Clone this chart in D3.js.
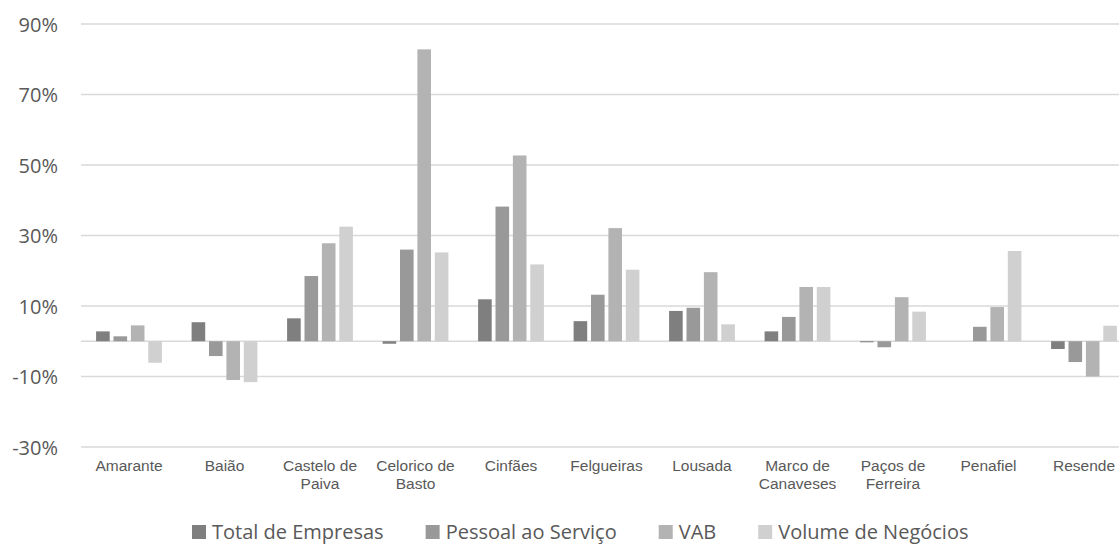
<!DOCTYPE html>
<html>
<head>
<meta charset="utf-8">
<script src="https://cdn.jsdelivr.net/npm/d3@7"></script>
<style>
  html, body { margin: 0; padding: 0; background: #fff; }
  svg { display: block; }
</style>
</head>
<body>
<svg id="chart" width="1119" height="544"></svg>
<script>
// Municipalities (x axis), two-line labels split on "\n"
const categories = [
  "Amarante", "Baião", "Castelo de\nPaiva", "Celorico de\nBasto", "Cinfães",
  "Felgueiras", "Lousada", "Marco de\nCanaveses", "Paços de\nFerreira", "Penafiel", "Resende"
];

const seriesNames = ["Total de Empresas", "Pessoal ao Serviço", "VAB", "Volume de Negócios"];
const seriesColors = ["#7f7f7f", "#999999", "#b3b3b3", "#d0d0d0"];

// Percentage change per municipality
const totalEmpresas   = [2.8, 5.4, 6.5, -0.7, 11.9, 5.7, 8.6, 2.8, -0.3, 0.0, -2.2];
const pessoalServico  = [1.4, -4.2, 18.5, 26.0, 38.2, 13.2, 9.5, 6.9, -1.7, 4.1, -5.9];
const vab             = [4.5, -11.0, 27.8, 82.8, 52.7, 32.1, 19.6, 15.4, 12.5, 9.7, -10.0];
const volumeNegocios  = [-6.1, -11.6, 32.5, 25.2, 21.8, 20.3, 4.8, 15.4, 8.4, 25.6, 4.4];

const yTicks = [-30, -10, 10, 30, 50, 70, 90];

const seriesValues = [totalEmpresas, pessoalServico, vab, volumeNegocios];

const svg = d3.select("#chart");

const x0 = d3.scaleBand().domain(categories).range([81.25, 1131.75]).padding(0);
const groupWidth = 65.8;
const x1 = d3.scaleBand().domain(seriesNames).range([0, groupWidth]).paddingInner(0.218).paddingOuter(0);
const y = d3.scaleLinear().domain([-30, 90]).range([447, 24]);

// Horizontal gridlines
svg.append("g")
  .selectAll("line")
  .data(yTicks.concat([0]))
  .join("line")
  .attr("x1", 81)
  .attr("x2", 1132)
  .attr("y1", d => y(d))
  .attr("y2", d => y(d))
  .attr("stroke", "#d9d9d9")
  .attr("stroke-width", 1.5);

// Y axis labels
const yAxis = d3.axisLeft(y).tickValues(yTicks).tickFormat(d => d + "%").tickSize(0).tickPadding(0);
const yG = svg.append("g").attr("transform", "translate(58,0)").call(yAxis);
yG.select(".domain").remove();
yG.selectAll("text")
  .attr("font-family", "'Open Sans', sans-serif")
  .attr("font-size", 20)
  .attr("fill", "#595959")
  .attr("dy", "0.36em");

// Bars
const groupOffset = (x0.bandwidth() - groupWidth) / 2;
const groups = svg.append("g")
  .selectAll("g")
  .data(categories)
  .join("g")
  .attr("transform", d => `translate(${x0(d) + groupOffset},0)`);

groups.selectAll("rect")
  .data((c, i) => seriesNames.map((s, k) => ({ s, k, v: seriesValues[k][i] })))
  .join("rect")
  .attr("x", d => x1(d.s))
  .attr("width", x1.bandwidth())
  .attr("y", d => y(Math.max(0, d.v)))
  .attr("height", d => Math.abs(y(d.v) - y(0)))
  .attr("fill", d => seriesColors[d.k]);

// Category labels
const xLab = svg.append("g");
categories.forEach(c => {
  const lines = c.split("\n");
  const t = xLab.append("text")
    .attr("x", x0(c) + x0.bandwidth() / 2)
    .attr("y", 471)
    .attr("text-anchor", "middle")
    .attr("font-family", "'Liberation Sans', Arial, sans-serif")
    .attr("font-size", 15.5)
    .attr("fill", "#595959");
  lines.forEach((ln, i) => {
    t.append("tspan")
      .attr("x", x0(c) + x0.bandwidth() / 2)
      .attr("dy", i === 0 ? 0 : 18)
      .text(ln);
  });
});

// Legend
const legend = svg.append("g");
let lx = 192;
seriesNames.forEach((name, k) => {
  legend.append("rect")
    .attr("x", lx)
    .attr("y", 525)
    .attr("width", 14)
    .attr("height", 14)
    .attr("fill", seriesColors[k]);
  const txt = legend.append("text")
    .attr("x", lx + 20)
    .attr("y", 539)
    .attr("font-family", "'Open Sans', sans-serif")
    .attr("font-size", 20)
    .attr("fill", "#595959")
    .text(name);
  lx += 20 + txt.node().getComputedTextLength() + 42;
});
</script>
</body>
</html>
